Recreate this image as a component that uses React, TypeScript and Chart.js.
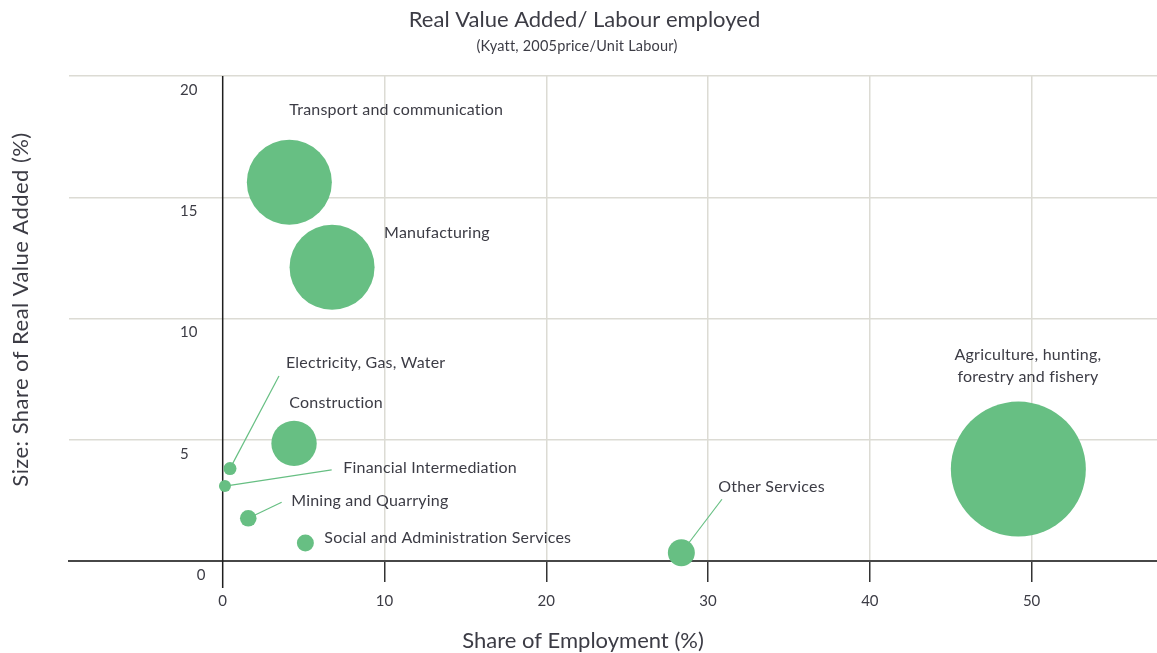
import React, { useEffect, useRef } from 'react';
import { Chart, registerables } from 'chart.js';

Chart.register(...registerables);

// ---------- data ----------
const sectors = [
  'Transport and communication',
  'Manufacturing',
  'Electricity, Gas, Water',
  'Financial Intermediation',
  'Construction',
  'Mining and Quarrying',
  'Social and Administration Services',
  'Other Services',
  'Agriculture, hunting, forestry and fishery',
];
const sectorLabelLines = [
  ['Transport and communication'],
  ['Manufacturing'],
  ['Electricity, Gas, Water'],
  ['Financial Intermediation'],
  ['Construction'],
  ['Mining and Quarrying'],
  ['Social and Administration Services'],
  ['Other Services'],
  ['Agriculture, hunting,', 'forestry and fishery'],
];
const employmentShare = [4.12, 6.76, 0.45, 0.14, 4.41, 1.58, 5.11, 28.35, 49.18];
const valueAddedShare = [15.62, 12.11, 3.81, 3.09, 4.85, 1.76, 0.74, 0.34, 3.79];
const bubbleSize = [42.5, 42.5, 6.5, 6, 22.7, 8.3, 8.5, 13.5, 67.5];
const xTicks = [0, 10, 20, 30, 40, 50];
const yTicks = [0, 5, 10, 15, 20];

const chartTitle = 'Real Value Added/ Labour employed';
const chartSubtitle = '(Kyatt, 2005price/Unit Labour)';
const xTitle = 'Share of Employment (%)';
const yTitle = 'Size: Share of Real Value Added (%)';

// ---------- layout (label offsets from bubble centre, px) ----------
type LabelLayout = { dx: number; dy: number; align: CanvasTextAlign; leader?: [number, number]; gap?: number };
const labelLayout: LabelLayout[] = [
  { dx: 0, dy: -72, align: 'left' },
  { dx: 52, dy: -34, align: 'left' },
  { dx: 56, dy: -106, align: 'left', leader: [49, -92.6] },
  { dx: 118.3, dy: -18.4, align: 'left', leader: [106.7, -16.1] },
  { dx: -4.7, dy: -40.7, align: 'left' },
  { dx: 43, dy: -17, align: 'left', leader: [33.4, -16] },
  { dx: 19, dy: -5, align: 'left' },
  { dx: 37, dy: -66, align: 'left', leader: [40.6, -53.5] },
  { dx: 9.6, dy: -114, align: 'center', gap: 21.7 },
];

const FONT = "Lato, 'Noto Sans', sans-serif";
const TEXT = '#3c3c45';
const GREEN = '#67bf83';
const GRID = '#dcdbd4';

function setSpacing(ctx: any, px: number) {
  if ('letterSpacing' in ctx) ctx.letterSpacing = `${px}px`;
}

const annotatePlugin = {
  id: 'annotate',
  beforeDatasetsDraw(chart: any) {
    const { ctx, chartArea, scales } = chart;
    const xs = scales.x;
    const ys = scales.y;
    ctx.save();
    // vertical axis line at x = 0
    const x0 = xs.getPixelForValue(0);
    ctx.strokeStyle = '#1e1e1e';
    ctx.lineWidth = 1.5;
    ctx.beginPath();
    ctx.moveTo(x0, chartArea.top);
    ctx.lineTo(x0, chartArea.bottom + 27);
    ctx.stroke();
    // leader lines
    ctx.strokeStyle = GREEN;
    ctx.lineWidth = 1.2;
    sectors.forEach((_, i) => {
      const l = labelLayout[i];
      if (!l.leader) return;
      const px = xs.getPixelForValue(employmentShare[i]);
      const py = ys.getPixelForValue(valueAddedShare[i]);
      ctx.beginPath();
      ctx.moveTo(px, py);
      ctx.lineTo(px + l.leader[0], py + l.leader[1]);
      ctx.stroke();
    });
    ctx.restore();
  },
  afterDatasetsDraw(chart: any) {
    const { ctx, chartArea, scales } = chart;
    const xs = scales.x;
    const ys = scales.y;
    ctx.save();
    ctx.fillStyle = TEXT;
    ctx.textBaseline = 'middle';

    // bubble labels
    ctx.font = `16px ${FONT}`;
    setSpacing(ctx, 0.2);
    sectors.forEach((_, i) => {
      const l = labelLayout[i];
      const px = xs.getPixelForValue(employmentShare[i]);
      const py = ys.getPixelForValue(valueAddedShare[i]);
      ctx.textAlign = l.align;
      sectorLabelLines[i].forEach((line, k) => {
        ctx.fillText(line, px + l.dx, py + l.dy + k * (l.gap || 0));
      });
    });

    // y tick labels (inside the plot, left of the zero axis)
    setSpacing(ctx, 0);
    ctx.font = `15px ${FONT}`;
    ctx.textAlign = 'left';
    yTicks.forEach((v) => {
      const py = ys.getPixelForValue(v) + 14;
      const px = chartArea.left + (v === 0 ? 127.7 : 111);
      ctx.fillText(String(v), px, py);
    });

    // titles
    ctx.textAlign = 'center';
    ctx.font = `22px ${FONT}`;
    ctx.fillText(chartTitle, 584.5, 20);
    ctx.font = `14.5px ${FONT}`;
    setSpacing(ctx, 0.2);
    ctx.fillText(chartSubtitle, 577, 46);
    setSpacing(ctx, 0);
    ctx.font = `22px ${FONT}`;
    ctx.fillText(xTitle, 583, 640.7);
    ctx.save();
    ctx.translate(20.5, 309.5);
    ctx.rotate(-Math.PI / 2);
    ctx.font = `22px ${FONT}`;
    setSpacing(ctx, 0.45);
    ctx.fillText(yTitle, 0, 0);
    ctx.restore();

    ctx.restore();
  },
};

export default function App() {
  const canvasRef = useRef<HTMLCanvasElement | null>(null);

  useEffect(() => {
    document.body.style.margin = '0';
    const canvas = canvasRef.current;
    if (!canvas) return;
    const chart = new Chart(canvas, {
      type: 'bubble',
      data: {
        datasets: [
          {
            label: 'Sectors',
            data: sectors.map((_, i) => ({ x: employmentShare[i], y: valueAddedShare[i], r: bubbleSize[i] })),
            backgroundColor: GREEN,
            borderWidth: 0,
            clip: false as any,
          },
        ],
      },
      options: {
        animation: false,
        responsive: true,
        maintainAspectRatio: false,
        layout: { autoPadding: false, padding: { left: 69, top: 76, right: 0, bottom: 0 } },
        plugins: {
          legend: { display: false },
          tooltip: { enabled: false },
          title: { display: false },
        },
        scales: {
          x: {
            type: 'linear',
            min: -9.5,
            max: 57.75,
            afterBuildTicks: (s: any) => {
              s.ticks = xTicks.map((v) => ({ value: v }));
            },
            afterFit: (s: any) => {
              s.height = 92;
              s.paddingLeft = 0;
              s.paddingRight = 0;
            },
            ticks: {
              font: { family: FONT, size: 15 },
              color: TEXT,
              padding: 10,
              maxRotation: 0,
              autoSkip: false,
            },
            grid: {
              color: (c: any) => (c.tick && c.tick.value === 0 ? 'rgba(0,0,0,0)' : GRID),
              lineWidth: 1.5,
              tickLength: 21,
              tickColor: (c: any) => (c.tick && c.tick.value === 0 ? 'rgba(0,0,0,0)' : '#333333'),
              tickWidth: 1.5,
            },
            border: { display: true, color: '#474747', width: 2 },
          },
          y: {
            type: 'linear',
            min: 0,
            max: 20,
            afterBuildTicks: (s: any) => {
              s.ticks = yTicks.map((v) => ({ value: v }));
            },
            afterFit: (s: any) => {
              s.width = 0;
              s.paddingTop = 0;
              s.paddingBottom = 0;
            },
            ticks: { display: false },
            grid: {
              color: (c: any) => (c.tick && c.tick.value === 0 ? 'rgba(0,0,0,0)' : GRID),
              lineWidth: 1.5,
              drawTicks: false,
            },
            border: { display: false },
          },
        },
      },
      plugins: [annotatePlugin],
    });
    return () => chart.destroy();
  }, []);

  return (
    <div style={{ position: 'relative', width: 1157, height: 653 }}>
      <canvas ref={canvasRef} />
    </div>
  );
}
